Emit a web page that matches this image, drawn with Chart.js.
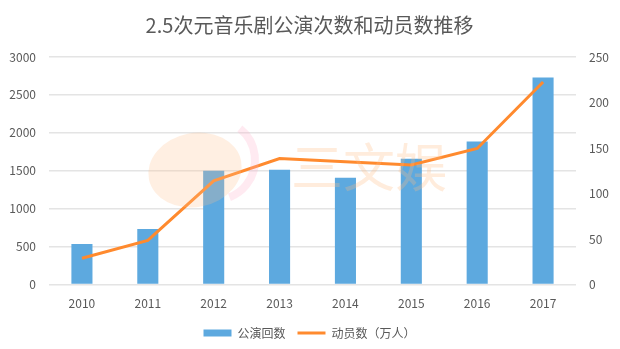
<!DOCTYPE html>
<html>
<head>
<meta charset="utf-8">
<script src="https://cdn.jsdelivr.net/npm/chart.js@4/dist/chart.umd.min.js"></script>
<style>
  html, body { margin: 0; padding: 0; background: #fff; }
  #wrap { width: 620px; height: 349px; }
</style>
</head>
<body>
<div id="wrap"><canvas id="c" width="620" height="349"></canvas></div>
<script>
// 公演次数和动员数
const years = ['2010', '2011', '2012', '2013', '2014', '2015', '2016', '2017'];
const shows = [535, 732, 1500, 1515, 1410, 1660, 1885, 2730];
const audience = [29, 48.5, 114, 138.5, 135, 131.5, 149.5, 222.5];
const leftTicks = [0, 500, 1000, 1500, 2000, 2500, 3000];
const rightTicks = [0, 50, 100, 150, 200, 250];

const txt = '#595959';
const cjk = "'Noto Sans CJK SC', 'Noto Sans', sans-serif";

// 水印（盖在柱子上面）
const watermark = {
    id: 'watermark',
    afterDatasetsDraw(chart) {
        const c = chart.ctx;
        c.save();
        c.fillStyle = 'rgba(255, 190, 140, 0.25)';
        c.beginPath();
        c.ellipse(195, 170, 47, 37, -0.2, 0, Math.PI * 2);
        c.fill();
        c.strokeStyle = 'rgba(255, 170, 200, 0.25)';
        c.lineWidth = 8;
        c.beginPath();
        c.arc(215, 160, 40, -0.9, 1.2);
        c.stroke();
        c.fillStyle = 'rgba(255, 185, 130, 0.28)';
        c.font = "52px " + cjk;
        c.textAlign = 'center';
        c.textBaseline = 'middle';
        c.fillText('三文娱', 369, 167);
        c.restore();
    }
};

const ctx = document.getElementById('c').getContext('2d');
new Chart(ctx, {
    data: {
        labels: years,
        datasets: [{
            type: 'line',
            label: '动员数（万人）',
            data: audience,
            yAxisID: 'y1',
            borderColor: '#FF8A2E',
            backgroundColor: '#FF8A2E',
            borderWidth: 3,
            pointRadius: 0,
            pointStyle: 'line',
            tension: 0,
            order: 0
        }, {
            type: 'bar',
            label: '公演回数',
            data: shows,
            yAxisID: 'y',
            backgroundColor: '#5DA9DF',
            borderWidth: 0,
            pointStyle: 'rect',
            barPercentage: 0.32,
            categoryPercentage: 1,
            order: 1
        }]
    },
    options: {
        responsive: false,
        animation: false,
        layout: { padding: { left: 8, right: 9, top: 0, bottom: 0 } },
        plugins: {
            title: {
                display: true,
                text: '2.5次元音乐剧公演次数和动员数推移',
                color: txt,
                font: { family: cjk, size: 20, weight: 'normal' },
                padding: { top: 13, bottom: 20 }
            },
            legend: {
                position: 'bottom',
                reverse: true,
                labels: {
                    color: txt,
                    font: { family: cjk, size: 12 },
                    usePointStyle: true,
                    pointStyleWidth: 28,
                    boxHeight: 7,
                    padding: 12
                }
            },
            tooltip: { enabled: false }
        },
        scales: {
            x: {
                grid: { display: false },
                border: { display: false },
                ticks: { color: txt, font: { family: cjk, size: 12 }, padding: 4 }
            },
            y: {
                position: 'left',
                min: 0, max: 3000,
                afterBuildTicks: a => { a.ticks = leftTicks.map(v => ({ value: v })); },
                afterFit: s => { s.width = 41; },
                grid: { color: '#E4E4E4', lineWidth: 1.5, drawTicks: false },
                border: { display: false },
                ticks: { color: txt, font: { family: cjk, size: 12 }, padding: 13, callback: v => String(v) }
            },
            y1: {
                position: 'right',
                min: 0, max: 250,
                afterBuildTicks: a => { a.ticks = rightTicks.map(v => ({ value: v })); },
                afterFit: s => { s.width = 35; },
                grid: { display: false, drawTicks: false },
                border: { display: false },
                ticks: { color: txt, font: { family: cjk, size: 12 }, padding: 13, callback: v => String(v) }
            }
        }
    },
    plugins: [watermark]
});
</script>
</body>
</html>
